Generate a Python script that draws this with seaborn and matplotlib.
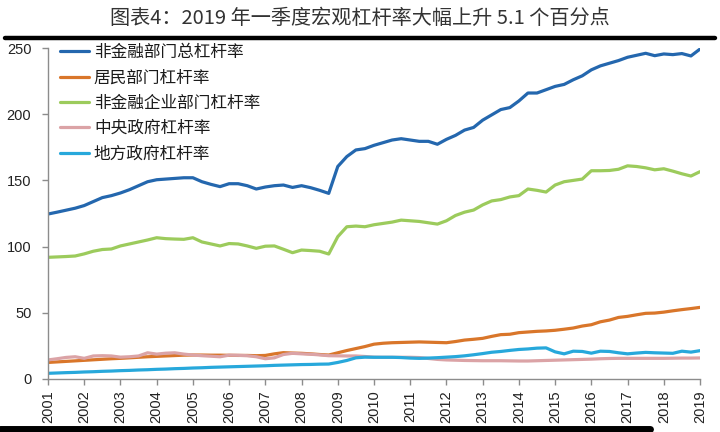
import numpy as np
import pandas as pd
import matplotlib
matplotlib.use("Agg")
import matplotlib.pyplot as plt
from matplotlib.lines import Line2D
import seaborn as sns

title = "图表4：2019 年一季度宏观杠杆率大幅上升 5.1 个百分点"
years = [str(y) for y in range(2001, 2020)]
series_names = ["非金融部门总杠杆率", "居民部门杠杆率", "非金融企业部门杠杆率", "中央政府杠杆率", "地方政府杠杆率"]
colors = ["#2467AE", "#D9762A", "#9CCB5C", "#DBA3A6", "#27A8DB"]

# quarterly 2001Q1 .. 2019Q1
total = [124.6, 126, 127.5, 129, 131, 134, 137, 138.5, 140.5, 143, 146, 149,
         150.5, 151, 151.5, 152, 152, 149, 147, 145.3, 147.5, 147.5, 146, 143.5,
         145, 146, 146.5, 144.7, 146, 144.5, 142.5, 140.2, 160.5, 168, 173, 174,
         176.5, 178.5, 180.5, 181.5, 180.5, 179.5, 179.5, 177.3, 181, 184, 188, 190,
         195.5, 199.5, 203.5, 205, 210, 216, 216, 218.5, 221, 222.5, 226, 229,
         233.5, 236.5, 238.5, 240.5, 243, 244.5, 246, 244.2, 245.5, 245, 245.8, 244,
         249.2]
household = [12.5, 12.9, 13.3, 13.7, 14.1, 14.5, 14.9, 15.3, 15.6, 16, 16.4, 16.8,
             17.1, 17.4, 17.7, 18, 18.1, 18.1, 18, 18, 17.9, 17.8, 17.8, 17.6,
             17.8, 19, 19.9, 19.6, 19.4, 19, 18.5, 18.1, 19.8, 21.5, 23, 24.5,
             26.3, 27, 27.4, 27.6, 27.8, 28, 27.8, 27.6, 27.4, 28.3, 29.4, 30,
             30.7, 32.2, 33.5, 33.8, 35, 35.5, 36, 36.3, 36.8, 37.6, 38.5, 40,
             41, 43.2, 44.5, 46.5, 47.3, 48.5, 49.6, 49.8, 50.5, 51.5, 52.4, 53.2,
             54.1]
enterprise = [91.9, 92.2, 92.5, 92.9, 94.5, 96.5, 97.8, 98.2, 100.5, 102, 103.5, 105,
              106.7, 106, 105.7, 105.5, 106.7, 103.5, 102, 100.5, 102.3, 102, 100.5, 98.7,
              100.3, 100.5, 98, 95.4, 97.4, 97, 96.5, 94.4, 107.5, 115, 115.5, 115,
              116.5, 117.5, 118.5, 120, 119.5, 119, 118, 117, 119.5, 123.5, 126, 127.6,
              131.5, 134.5, 135.5, 137.5, 138.5, 143.5, 142.5, 141.2, 146.5, 149, 150, 151,
              157.3, 157.3, 157.5, 158.4, 161, 160.5, 159.5, 158, 158.8, 157, 155, 153.3,
              156.6]
central = [14.4, 15.3, 16.3, 16.8, 15.6, 17.4, 17.6, 17.4, 16.5, 16.8, 17.4, 19.8,
           18.8, 19.5, 19.8, 18.8, 18.1, 17.6, 17.2, 16.8, 18.0, 17.9, 17.6, 16.8,
           15.3, 16.0, 18.5, 19.4, 19.0, 18.7, 18.2, 17.6, 17.5, 17.4, 17.4, 17.0,
           16.5, 16.4, 16.4, 16.4, 16.4, 16.2, 15.5, 14.8, 14.4, 14.2, 14.0, 13.9,
           13.8, 13.8, 13.8, 13.7, 13.6, 13.6, 13.8, 14.0, 14.2, 14.4, 14.6, 14.8,
           15.0, 15.3, 15.5, 15.6, 15.6, 15.6, 15.6, 15.6, 15.6, 15.7, 15.8, 15.8,
           15.9]
local = [4.3, 4.55, 4.8, 5.0, 5.3, 5.5, 5.8, 6.0, 6.3, 6.5, 6.8, 7.0,
         7.3, 7.5, 7.8, 8.0, 8.3, 8.5, 8.8, 9.0, 9.2, 9.4, 9.6, 9.8,
         10.0, 10.3, 10.5, 10.7, 10.9, 11.0, 11.2, 11.3, 12.5, 14, 16, 16.5,
         16.4, 16.4, 16.4, 16.2, 15.8, 15.6, 15.8, 16.1, 16.5, 16.9, 17.5, 18.3,
         19.2, 20.2, 20.8, 21.6, 22.3, 22.7, 23.3, 23.5, 20.5, 19.0, 21.0, 20.8,
         19.5, 21.0, 20.8, 19.8, 19.0, 19.6, 20.1, 19.8, 19.6, 19.4, 21.0, 20.3,
         21.4]

t = 2001 + np.arange(len(total)) / 4.0
frames = []
for name, vals in zip(series_names, [total, household, enterprise, central, local]):
    frames.append(pd.DataFrame({"t": t, "v": vals, "s": name}))
df = pd.concat(frames, ignore_index=True)

sns.set_style("white")
plt.rcParams["font.family"] = ["Noto Sans CJK SC", "DejaVu Sans"]

fig = plt.figure(figsize=(7.2, 4.32), dpi=100)
ax = fig.add_axes([48 / 720, 1 - 379 / 432, 652 / 720, 331 / 432])

sns.lineplot(data=df, x="t", y="v", hue="s", hue_order=series_names,
             palette=colors, linewidth=2.3, ax=ax, legend=True)

ax.set_xlim(2001, 2019)
ax.set_ylim(0, 250)
ax.set_xticks([int(y) for y in years])
ax.set_xticklabels(years, rotation=90, fontsize=10.5, family="Liberation Sans")
ax.set_yticks([0, 50, 100, 150, 200, 250])
ax.set_yticklabels(["0", "50", "100", "150", "200", "250"], fontsize=10.5, family="Liberation Sans")
ax.set_xlabel("")
ax.set_ylabel("")
for s in ["top", "right"]:
    ax.spines[s].set_visible(False)
for s in ["left", "bottom"]:
    ax.spines[s].set_color("#8c8c8c")
    ax.spines[s].set_linewidth(1.0)
ax.tick_params(axis="both", which="both", direction="out", length=4, width=1,
               color="#8c8c8c", left=True, bottom=True, colors="#222222")
ax.tick_params(axis="y", pad=8)
ax.tick_params(axis="x", pad=4)
for tk in ax.xaxis.get_major_ticks() + ax.yaxis.get_major_ticks():
    tk.tick1line.set_color("#8c8c8c")

handles, labels = ax.get_legend_handles_labels()
for h in handles:
    h.set_linewidth(2.3)
leg = ax.legend(handles, labels, loc="upper left", bbox_to_anchor=(0.018, 1.012),
                frameon=False, fontsize=12, handlelength=1.75, handletextpad=0.3,
                labelspacing=0.5, borderpad=0, borderaxespad=0)
for txt in leg.get_texts():
    txt.set_color("#1a1a1a")

fig.text(0.5, 1 - 18 / 432, title, ha="center", va="center", fontsize=14.5,
         color="#333333")
fig.add_artist(Line2D([5 / 720, 715 / 720], [1 - 38 / 432, 1 - 38 / 432],
                      color="black", linewidth=3.2, transform=fig.transFigure))
fig.add_artist(Line2D([0, 650 / 720], [1 - 429 / 432, 1 - 429 / 432],
                      color="black", linewidth=5, transform=fig.transFigure))

fig.savefig("out.png", dpi=100)
